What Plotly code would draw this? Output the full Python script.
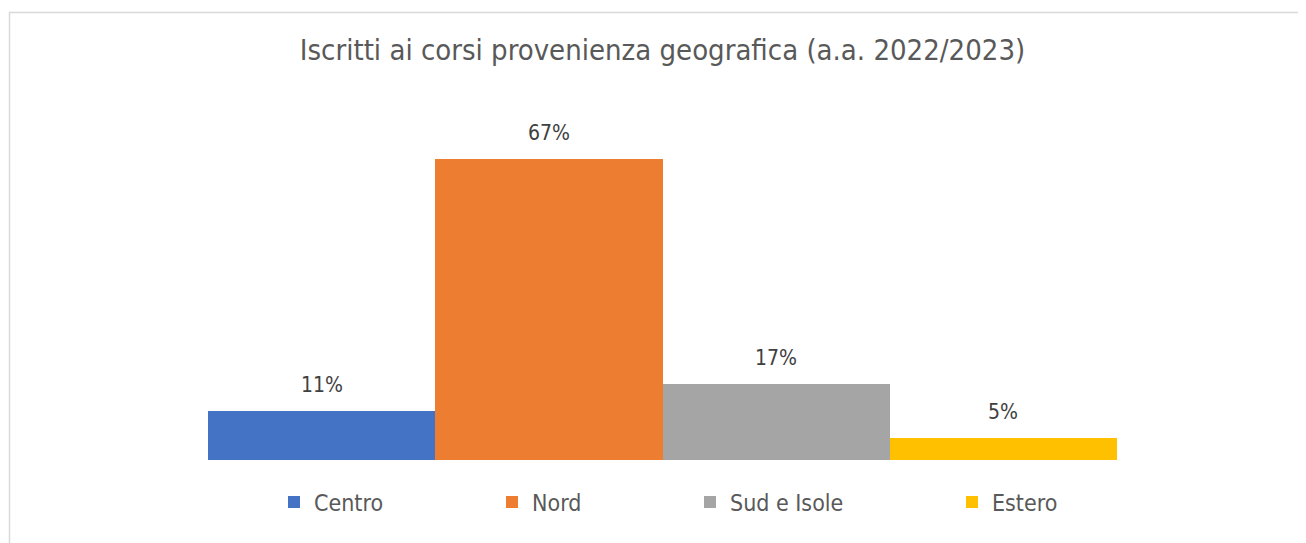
import plotly.graph_objects as go

categories = ["Centro", "Nord", "Sud e Isole", "Estero"]
values = [0.11, 0.67, 0.17, 0.05]
colors = ["#4472C4", "#ED7D31", "#A5A5A5", "#FFC000"]
title_text = "Iscritti ai corsi provenienza geografica (a.a. 2022/2023)"

W, H = 1306, 543
ML, MR, MT, MB = 200, 197, 92, 91
PW = W - ML - MR
PH = H - MT - MB

FONT = "DejaVu Sans Condensed, DejaVu Sans"
fig = go.Figure()
legend_px = [266, 484, 682, 944]  # left px of each legend box (figure coords)
for i, (cat, val, col) in enumerate(zip(categories, values, colors)):
    lg = "legend" if i == 0 else f"legend{i+1}"
    fig.add_trace(go.Bar(
        x=[cat], y=[val], name=cat, marker=dict(color=col, line=dict(width=0)),
        legend=lg, showlegend=True, hoverinfo="skip",
    ))
    fig.add_annotation(
        x=cat, y=val, text=f"{round(val*100)}%", showarrow=False,
        yshift=26, font=dict(family=FONT, size=21, color="#404040"),
    )

legends = {}
for i in range(len(categories)):
    key = "legend" if i == 0 else f"legend{i+1}"
    legends[key] = dict(
        x=(legend_px[i] - ML) / PW, y=(H - 494 - MB) / PH, xanchor="left", yanchor="middle",
        orientation="h", bgcolor="rgba(0,0,0,0)",
        font=dict(family=FONT, size=23, color="#595959"),
        itemwidth=30, tracegroupgap=0,
    )

fig.update_layout(
    width=W, height=H,
    margin=dict(l=ML, r=MR, t=MT, b=MB),
    paper_bgcolor="white", plot_bgcolor="white",
    barmode="overlay", bargap=0,
    title=dict(text=title_text, x=654.5 / W, xanchor="center", y=1 - 42 / H, yanchor="middle",
               font=dict(family=FONT, size=29, color="#595959")),
    xaxis=dict(showticklabels=False, showgrid=False, zeroline=False, showline=False, ticks=""),
    yaxis=dict(range=[0, 0.8], showticklabels=False, showgrid=False, zeroline=False,
               showline=False, ticks=""),
    **legends,
)

# chart area border (light gray), extending past right/bottom edge as in the reference
fig.add_shape(type="rect", xref="paper", yref="paper",
              x0=(1.5 - ML) / PW, x1=(1320 - ML) / PW,
              y0=(H - 560 - MB) / PH, y1=(H - 4.5 - MB) / PH,
              line=dict(color="#D9D9D9", width=1.5), fillcolor="rgba(0,0,0,0)", layer="below")

fig.write_html("out.html")
